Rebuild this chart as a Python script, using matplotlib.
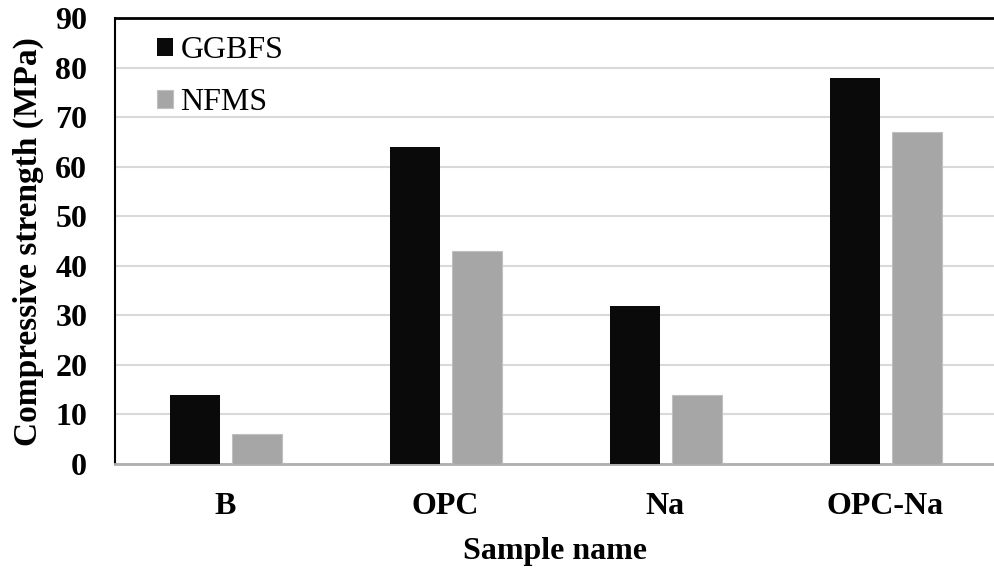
import numpy as np
import matplotlib.pyplot as plt

plt.rcParams["font.family"] = ["Liberation Serif", "DejaVu Serif"]

samples = ["B", "OPC", "Na", "OPC-Na"]
ggbfs = [14, 64, 32, 78]
nfms = [6, 43, 14, 67]

fig = plt.figure(figsize=(9.95, 5.69), dpi=100)
ax = fig.add_axes([0.1156, 0.1845, 0.8844, 0.7835])

x = np.arange(len(samples))
w = 0.227
ax.bar(x - 0.137, ggbfs, width=w, color="#0a0a0a", label="GGBFS", zorder=3)
ax.bar(x + 0.147, nfms, width=w, color="#a6a6a6", edgecolor="#c0c0c0", linewidth=0.8,
       label="NFMS", zorder=3)

ax.set_xlim(-0.5, len(samples) - 0.5)
ax.set_ylim(0, 90)
ax.set_yticks(range(0, 91, 10))
ax.set_xticks(x)
ax.set_xticklabels(samples)
ax.grid(axis="y", color="#d9d9d9", lw=1.5, zorder=0)
ax.tick_params(axis="both", length=0, labelsize=23)
ax.tick_params(axis="y", pad=20)
ax.tick_params(axis="x", pad=20)
for lab in ax.get_xticklabels() + ax.get_yticklabels():
    lab.set_fontweight("bold")

ax.spines["left"].set_color("black")
ax.spines["left"].set_linewidth(1.5)
ax.spines["top"].set_color("black")
ax.spines["top"].set_linewidth(2)
ax.spines["bottom"].set_color("#b0b0b0")
ax.spines["bottom"].set_linewidth(2)
ax.spines["right"].set_visible(False)

ax.set_ylabel("Compressive strength (MPa)", fontsize=24, fontweight="bold", labelpad=8)
ax.set_xlabel("Sample name", fontsize=23, fontweight="bold", labelpad=12)

ax.legend(loc="upper left", frameon=False, fontsize=23, handlelength=0.5, handleheight=0.5,
          handletextpad=0.22, labelspacing=0.72, borderpad=0, borderaxespad=0,
          bbox_to_anchor=(0.048, 0.959))

plt.savefig("out.png", dpi=100)
